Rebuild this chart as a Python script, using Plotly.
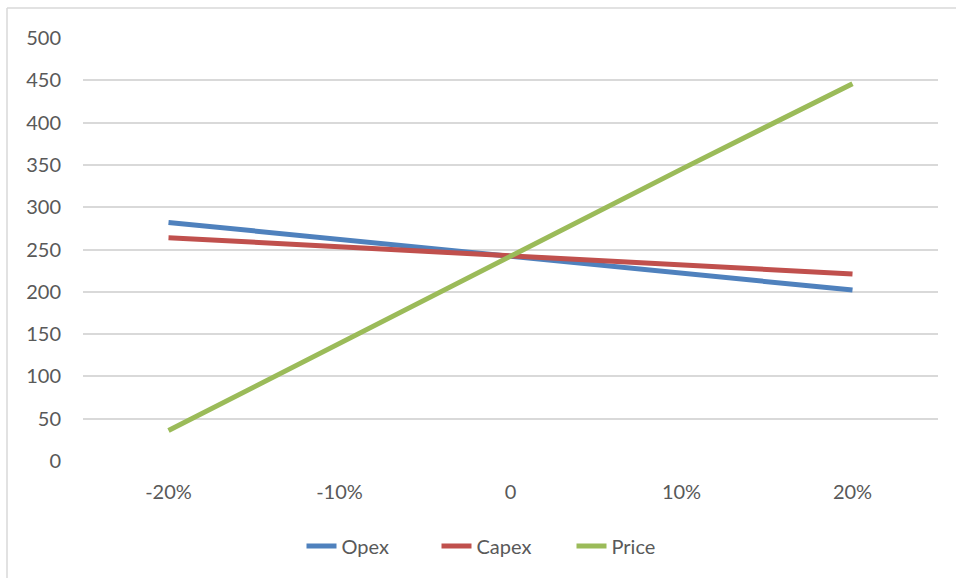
import plotly.graph_objects as go

# Sensitivity of the result to a +/- change in each driver
categories = ["-20%", "-10%", "0", "10%", "20%"]
opex = [282, 262, 242, 222, 202]
capex = [264, 253, 243, 232, 221]
price = [36, 139, 243, 345, 446]

series = [
    ("Opex", opex, "#4F81BD"),
    ("Capex", capex, "#C0504D"),
    ("Price", price, "#9BBB59"),
]

FONT = "Lato, 'Open Sans', sans-serif"
TEXT = "#595959"
GRID = "#D9D9D9"

fig = go.Figure()
for name, vals, color in series:
    fig.add_trace(go.Scatter(
        x=categories, y=vals, name=name, mode="lines",
        line=dict(color=color, width=5),
    ))

W, H = 956, 578
L, R, T, B = 83, 18, 38, 117
pw, ph = W - L - R, H - T - B

fig.update_layout(
    width=W, height=H,
    margin=dict(l=L, r=R, t=T, b=B),
    paper_bgcolor="white", plot_bgcolor="white",
    font=dict(family=FONT, size=20, color=TEXT),
    showlegend=True,
    legend=dict(
        orientation="h", x=(504 - L) / pw, xanchor="center",
        y=(H - B - 546) / ph, yanchor="middle",
        font=dict(family=FONT, size=20, color=TEXT),
        entrywidth=90, entrywidthmode="pixels",
        tracegroupgap=0,
    ),
    xaxis=dict(
        type="category", range=[-0.5, 4.5], showgrid=False,
        zeroline=False, showline=False, ticks="",
        ticklabelstandoff=17, fixedrange=True,
    ),
    yaxis=dict(
        range=[0, 500], dtick=50, tick0=0, showgrid=True,
        gridcolor=GRID, gridwidth=1.5, zeroline=False, showline=False,
        ticks="", ticklabelstandoff=21, fixedrange=True,
    ),
)

# Chart frame along the top and left edges
x0 = (7 - L) / pw
x1 = (W - L) / pw
y0 = (H - B - H) / ph
y1 = (H - B - 8) / ph
fig.add_shape(type="line", xref="paper", yref="paper",
              x0=x0, x1=x1, y0=y1, y1=y1, line=dict(color=GRID, width=1.5))
fig.add_shape(type="line", xref="paper", yref="paper",
              x0=x0, x1=x0, y0=y0, y1=y1, line=dict(color=GRID, width=1.5))

fig.write_html("out.html")
